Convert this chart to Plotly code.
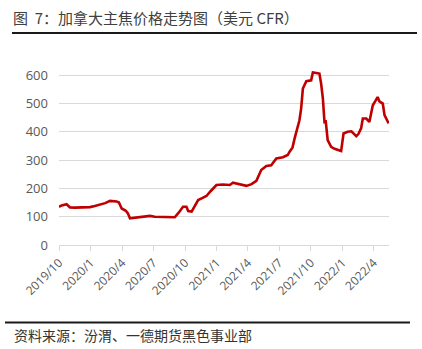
import plotly.graph_objects as go

dates = [
    "2019-10-01", "2019-10-09", "2019-10-23", "2019-11-02", "2019-11-16", "2019-12-07", "2019-12-30",
    "2020-01-13", "2020-01-28", "2020-02-12", "2020-02-26", "2020-03-16", "2020-03-23", "2020-03-31",
    "2020-04-12", "2020-04-18", "2020-04-24", "2020-05-08", "2020-05-23", "2020-06-06", "2020-06-21",
    "2020-07-05", "2020-07-20", "2020-08-03", "2020-08-18", "2020-09-01", "2020-09-13", "2020-09-25",
    "2020-10-05", "2020-10-10", "2020-10-20", "2020-10-29", "2020-11-08", "2020-11-18", "2020-12-02",
    "2020-12-14", "2020-12-31", "2021-01-19", "2021-02-08", "2021-02-17", "2021-03-09", "2021-03-28",
    "2021-04-12", "2021-04-26", "2021-05-10", "2021-05-25", "2021-06-08", "2021-06-23", "2021-07-12",
    "2021-07-26", "2021-07-31", "2021-08-09", "2021-08-15", "2021-08-21", "2021-08-29", "2021-09-03",
    "2021-09-08", "2021-09-18", "2021-10-02", "2021-10-07", "2021-10-18", "2021-10-26", "2021-10-31",
    "2021-11-05", "2021-11-10", "2021-11-13", "2021-11-19", "2021-11-29", "2021-12-09", "2021-12-23",
    "2021-12-28", "2022-01-04", "2022-01-16", "2022-01-27", "2022-02-10", "2022-02-16", "2022-02-24",
    "2022-03-01", "2022-03-11", "2022-03-20", "2022-03-30", "2022-04-07", "2022-04-13", "2022-04-18",
    "2022-04-28", "2022-05-03", "2022-05-09", "2022-05-15",
]
prices = [
    135, 140, 144, 133, 132, 133, 134,
    138, 143, 148, 156, 154, 150, 129,
    121, 112, 94, 96, 97, 100, 103,
    100, 99, 98, 99, 98, 115, 135,
    135, 120, 118, 138, 159, 165, 173,
    190, 212, 214, 212, 220, 215, 209,
    215, 227, 265, 279, 282, 306, 310,
    318, 329, 345, 377, 405, 441, 483,
    553, 579, 582, 610, 608, 606, 570,
    518, 430, 441, 371, 347, 340, 335,
    332, 394, 400, 402, 385, 392, 412,
    447, 447, 435, 494, 510, 523, 508,
    500, 459, 445, 430,
]

tick_vals = ["2019-10-01", "2020-01-01", "2020-04-01", "2020-07-01", "2020-10-01", "2021-01-01",
             "2021-04-01", "2021-07-01", "2021-10-01", "2022-01-01", "2022-04-01"]
tick_text = ["2019/10", "2020/1", "2020/4", "2020/7", "2020/10", "2021/1",
             "2021/4", "2021/7", "2021/10", "2022/1", "2022/4"]
y_ticks = [0, 100, 200, 300, 400, 500, 600]

title_text = "图\u00a0\u00a07：加拿大主焦价格走势图（美元 CFR）"
source_text = "资料来源：汾渭、一德期货黑色事业部"

W, H = 422, 349
L, R, T, B = 59, 33, 71, 104
pw, ph = W - L - R, H - T - B


def px_x(x):
    return (x - L) / pw


def px_y(y):
    return (H - B - y) / ph


fig = go.Figure()
fig.add_trace(go.Scatter(x=dates, y=prices, mode="lines",
                         line=dict(color="#c00000", width=2.6), hoverinfo="x+y"))

cjk = "Noto Sans CJK SC"
fig.update_layout(
    width=W, height=H,
    margin=dict(l=L, r=R, t=T, b=B),
    paper_bgcolor="white", plot_bgcolor="white",
    showlegend=False,
    xaxis=dict(
        type="date", range=["2019-10-01", "2022-05-16"],
        tickvals=tick_vals, ticktext=tick_text, tickangle=-45,
        showgrid=False, showline=True, linecolor="#d9d9d9", linewidth=1,
        ticks="outside", ticklen=5, tickcolor="#d9d9d9",
        tickfont=dict(family="Open Sans", size=12, color="#595959"),
        zeroline=False,
    ),
    yaxis=dict(
        range=[0, 615], tickvals=y_ticks,
        showgrid=True, gridcolor="#d9d9d9", gridwidth=1,
        showline=False, zeroline=False, ticks="",
        ticklabelstandoff=10,
        tickfont=dict(family="Open Sans", size=13, color="#595959"),
    ),
    shapes=[
        dict(type="line", xref="paper", yref="paper", x0=px_x(12), x1=px_x(417),
             y0=px_y(33), y1=px_y(33), line=dict(color="#1a1a1a", width=2)),
        dict(type="line", xref="paper", yref="paper", x0=px_x(5), x1=px_x(410),
             y0=px_y(322.5), y1=px_y(322.5), line=dict(color="#1a1a1a", width=2)),
    ],
    annotations=[
        dict(text=title_text, xref="paper", yref="paper", x=px_x(11), y=px_y(17),
             xanchor="left", yanchor="middle", showarrow=False,
             font=dict(family=cjk, size=15, color="#404040")),
        dict(text=source_text, xref="paper", yref="paper", x=px_x(12), y=px_y(335),
             xanchor="left", yanchor="middle", showarrow=False,
             font=dict(family=cjk, size=14, color="#333333")),
    ],
)

fig.write_html("out.html")
